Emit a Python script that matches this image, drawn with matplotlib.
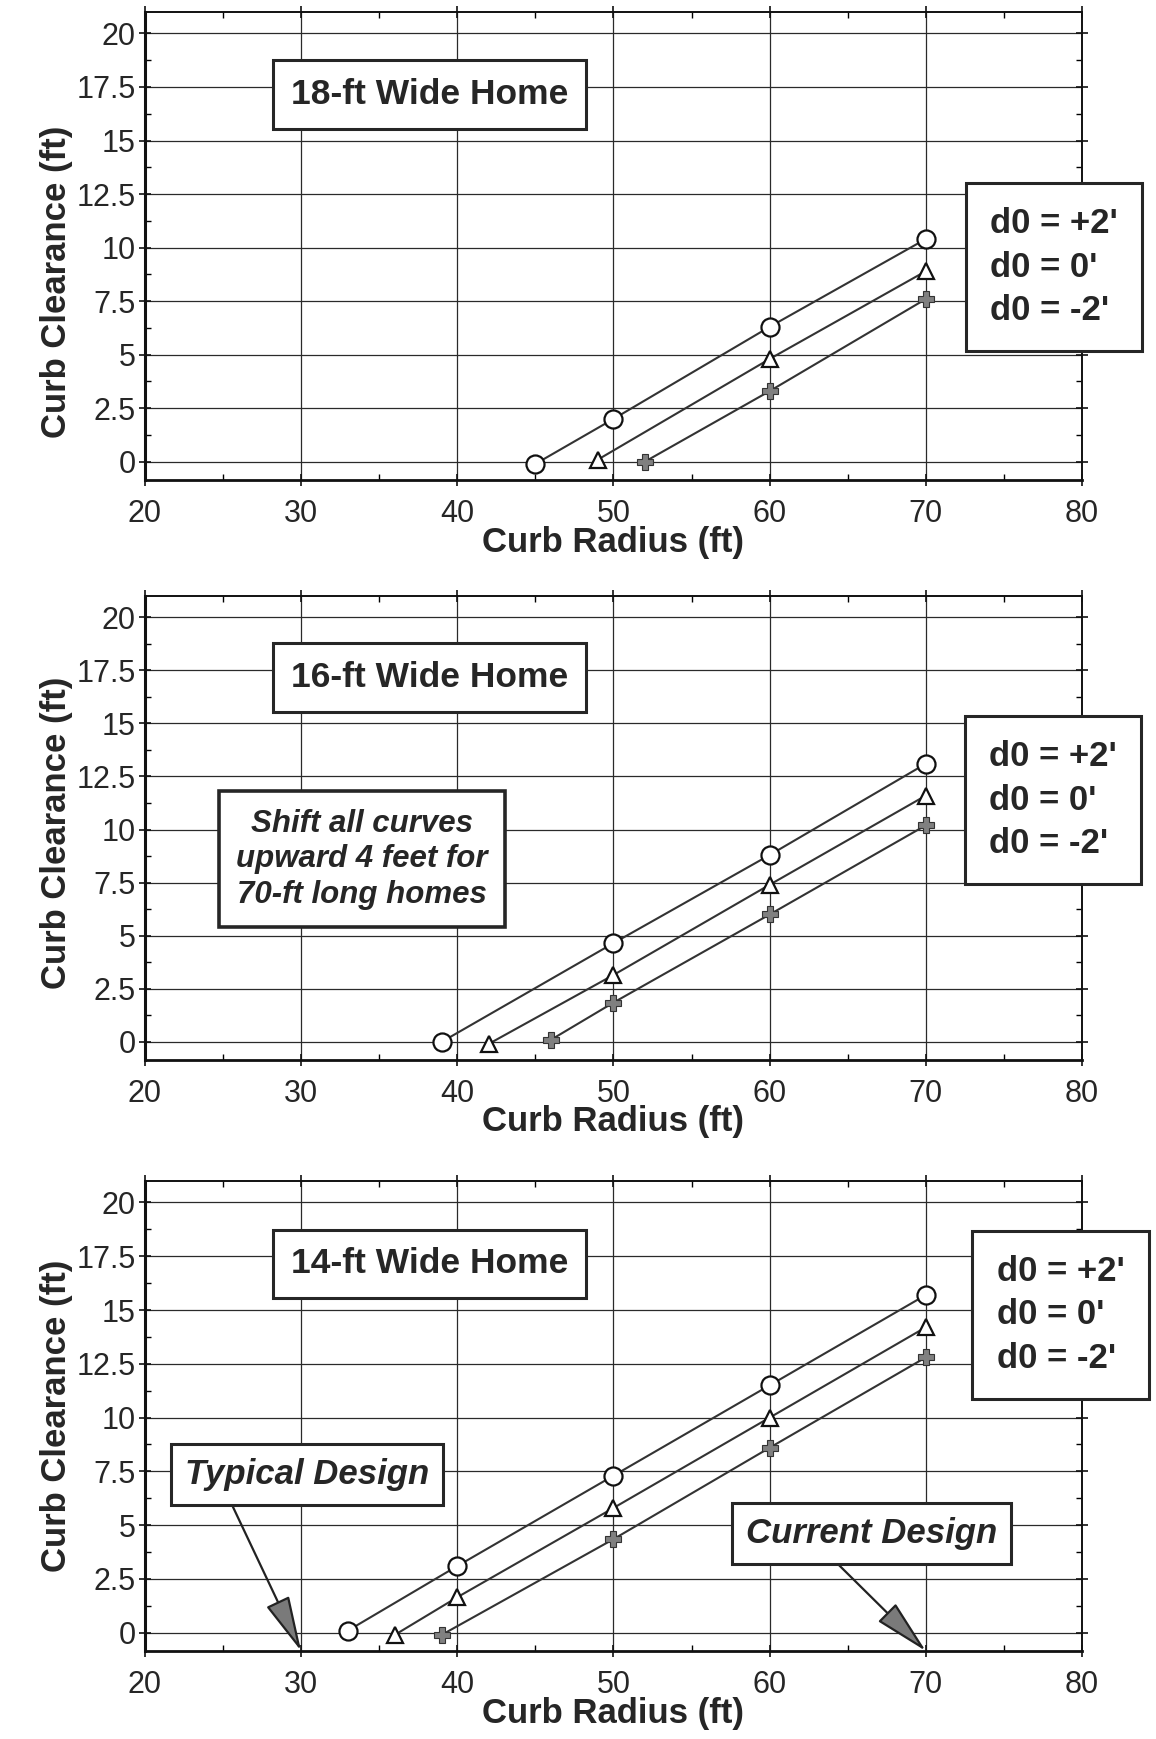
import numpy as np
import matplotlib
matplotlib.use('Agg')
import matplotlib.pyplot as plt
from matplotlib.ticker import MultipleLocator, FormatStrFormatter

plt.rcParams['font.family'] = ['Liberation Sans', 'DejaVu Sans']

labels = ["d0 = +2'", "d0 = 0'", "d0 = -2'"]

# 18-ft wide home
r18_p2 = [45, 50, 60, 70]
c18_p2 = [-0.1, 2.0, 6.3, 10.4]
r18_0 = [49, 60, 70]
c18_0 = [0.1, 4.8, 8.9]
r18_m2 = [52, 60, 70]
c18_m2 = [0.0, 3.3, 7.6]

# 16-ft wide home
r16_p2 = [39, 50, 60, 70]
c16_p2 = [0.0, 4.65, 8.8, 13.1]
r16_0 = [42, 50, 60, 70]
c16_0 = [-0.1, 3.15, 7.4, 11.6]
r16_m2 = [46, 50, 60, 70]
c16_m2 = [0.1, 1.85, 6.0, 10.2]

# 14-ft wide home
r14_p2 = [33, 40, 50, 60, 70]
c14_p2 = [0.1, 3.1, 7.3, 11.5, 15.7]
r14_0 = [36, 40, 50, 60, 70]
c14_0 = [-0.1, 1.65, 5.8, 10.0, 14.2]
r14_m2 = [39, 50, 60, 70]
c14_m2 = [-0.1, 4.35, 8.6, 12.8]

titles = ['18-ft Wide Home', '16-ft Wide Home', '14-ft Wide Home']
shift_note = 'Shift all curves\nupward 4 feet for\n70-ft long homes'

ink = '#262626'
ylo, yhi = -0.85, 21.0

fig = plt.figure(figsize=(11.56, 17.39), dpi=100)
positions = [[0.1254, 0.7240, 0.8106, 0.2691],
             [0.1254, 0.3905, 0.8106, 0.2668],
             [0.1254, 0.0506, 0.8106, 0.2703]]
panel_data = [[(r18_p2, c18_p2), (r18_0, c18_0), (r18_m2, c18_m2)],
              [(r16_p2, c16_p2), (r16_0, c16_0), (r16_m2, c16_m2)],
              [(r14_p2, c14_p2), (r14_0, c14_0), (r14_m2, c14_m2)]]
legend_at = [(0.970, 0.455), (0.969, 0.560), (0.977, 0.715)]
ylabel_y = [0.423, 0.49, 0.5]

styles = [dict(marker='o', ms=13, mfc='white', mec='#111111', mew=1.6),
          dict(marker='^', ms=12, mfc='white', mec='#111111', mew=1.6),
          dict(marker='P', ms=11, mfc='#808080', mec='#333333', mew=0.8)]

box = dict(boxstyle='square,pad=0.5', fc='white', ec=ink, lw=2.2)

axes = []
for i in range(3):
    ax = fig.add_axes(positions[i])
    axes.append(ax)
    handles = []
    for (r, c), st, lab in zip(panel_data[i], styles, labels):
        h, = ax.plot(r, c, color='#333333', lw=1.5, zorder=3, label=lab, **st)
        handles.append(h)

    ax.set_xlim(20, 80)
    ax.set_ylim(ylo, yhi)
    ax.xaxis.set_major_locator(MultipleLocator(10))
    ax.xaxis.set_minor_locator(MultipleLocator(5))
    ax.yaxis.set_major_locator(MultipleLocator(2.5))
    ax.yaxis.set_minor_locator(MultipleLocator(1.25))
    ax.yaxis.set_major_formatter(FormatStrFormatter('%g'))
    ax.grid(True, which='major', color='#2a2a2a', lw=0.9)
    ax.tick_params(which='major', direction='inout', length=9, width=1.2,
                   labelsize=22, colors='#111111', labelcolor=ink,
                   top=True, right=True)
    ax.tick_params(axis='x', which='major', pad=9)
    ax.tick_params(axis='y', which='major', pad=2)
    ax.tick_params(which='minor', direction='in', length=4, width=1.0,
                   top=True, right=True)
    for s in ax.spines.values():
        s.set_linewidth(1.4)
        s.set_color('#111111')
    ax.spines['left'].set_linewidth(2.2)
    ax.spines['bottom'].set_linewidth(2.0)

    ax.set_xlabel('Curb Radius (ft)', fontsize=25, fontweight='bold', color=ink)
    ax.set_ylabel('Curb Clearance (ft)', fontsize=25, fontweight='bold', color=ink)
    ax.xaxis.set_label_coords(0.5, -0.098)
    ax.yaxis.set_label_coords(-0.077, ylabel_y[i])

    ax.text(38.2, 17.15, titles[i], ha='center', va='center', fontsize=25.5,
            fontweight='bold', color=ink, bbox=box, zorder=6)

    leg = ax.legend(handles, labels, loc='center', bbox_to_anchor=legend_at[i],
                    handlelength=0, handletextpad=0, fancybox=False,
                    edgecolor=ink, framealpha=1, borderpad=0.7,
                    labelspacing=0.3, prop=dict(size=25, weight='bold'))
    leg.get_frame().set_linewidth(2.2)
    for t in leg.get_texts():
        t.set_color(ink)
    for h in leg.legend_handles:
        h.set_visible(False)

# note on 16-ft panel
axes[1].text(33.9, 8.6, shift_note, ha='center', va='center', fontsize=22.5,
             fontweight='bold', fontstyle='italic', color=ink, linespacing=1.25,
             bbox=dict(boxstyle='square,pad=0.55', fc='white', ec=ink, lw=2.6),
             zorder=6)

# design callouts on 14-ft panel
arrow = dict(arrowstyle='-|>,head_length=1.4,head_width=0.32', mutation_scale=25,
             fc='#7a7a7a', ec='#222222', lw=1.6, shrinkA=0, shrinkB=0)
ax3 = axes[2]
ax3.annotate('', xy=(30, ylo), xytext=(25.6, 5.9), arrowprops=arrow, zorder=5)
ax3.annotate('', xy=(70, ylo), xytext=(64.4, 3.17), arrowprops=arrow, zorder=5)
ax3.text(30.4, 7.35, 'Typical Design', ha='center', va='center', fontsize=25,
         fontweight='bold', fontstyle='italic', color=ink,
         bbox=dict(boxstyle='square,pad=0.4', fc='white', ec=ink, lw=2.2), zorder=6)
ax3.text(66.5, 4.6, 'Current Design', ha='center', va='center', fontsize=25,
         fontweight='bold', fontstyle='italic', color=ink,
         bbox=dict(boxstyle='square,pad=0.4', fc='white', ec=ink, lw=2.2), zorder=6)

fig.savefig('out.png', dpi=100)
